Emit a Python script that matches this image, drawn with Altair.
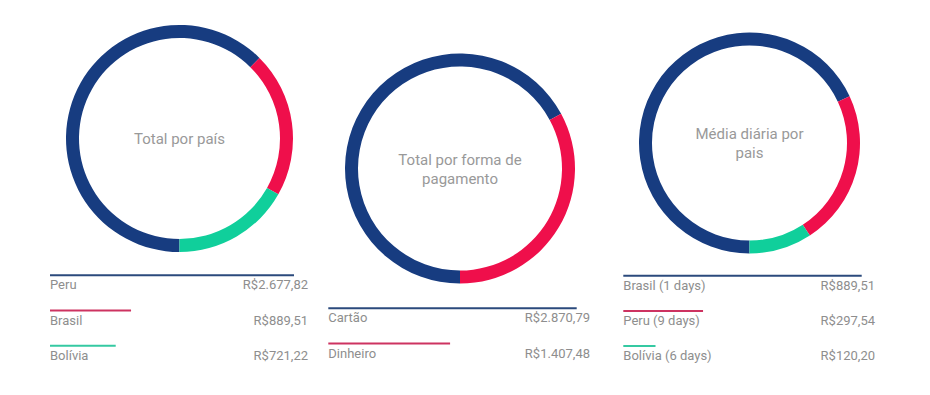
import math
import altair as alt
import pandas as pd

# ---- data ----
paises = ["Peru", "Brasil", "Bolívia"]
total_pais = [2677.82, 889.51, 721.22]

formas = ["Cartão", "Dinheiro"]
total_forma = [2870.79, 1407.48]

paises_media = ["Brasil (1 days)", "Peru (9 days)", "Bolívia (6 days)"]
media_diaria = [889.51, 297.54, 120.20]

titulos = ["Total por país", "Total por forma de\npagamento", "Média diária por\npais"]

ARC_COLORS = ["#173c80", "#ef0f4b", "#10cf9b"]
LINE_COLORS = ["#2b4a7c", "#cd3361", "#35c9a2"]
FONT = "Roboto"
TEXT_COLOR = "#8e8e8e"


def brl(v):
    s = f"{v:,.2f}"
    s = s.replace(",", "X").replace(".", ",").replace("X", ".")
    return "R$" + s


def panel(labels, values, title, width, cx, cy, r, lx0, lx1, vright, ly0):
    n = len(labels)
    df = pd.DataFrame({
        "label": labels,
        "value": values,
        "order": list(range(n)),
        "vtext": [brl(v) for v in values],
    })
    tdf = pd.DataFrame({"t": [title]})
    nlines = title.count("\n") + 1
    arc = alt.Chart(df).mark_arc(innerRadius=r - 13, outerRadius=r).encode(
        theta=alt.Theta("value:Q", stack=True,
                        scale=alt.Scale(range=[math.pi, 3 * math.pi])),
        order=alt.Order("order:Q"),
        color=alt.Color("label:N", scale=alt.Scale(domain=labels, range=ARC_COLORS[:n]),
                        legend=None),
        x=alt.value(cx),
        y=alt.value(cy),
    )
    center = alt.Chart(tdf).mark_text(
        lineBreak="\n", lineHeight=19, font=FONT, fontSize=15, color="#999999",
        align="center", baseline="middle", dy=-(nlines - 1) * 9,
    ).encode(text="t:N", x=alt.value(cx), y=alt.value(cy))

    yscale = alt.Scale(domain=[0, 2], range=[ly0, ly0 + 70.4], nice=False, zero=False)
    xscale = alt.Scale(domain=[0, max(values)], range=[lx0, lx1], nice=False, zero=True)
    rule = alt.Chart(df).mark_rule(strokeWidth=2).encode(
        x=alt.X("value:Q", scale=xscale, axis=None),
        x2=alt.datum(0),
        y=alt.Y("order:Q", scale=yscale, axis=None),
        stroke=alt.Stroke("label:N", scale=alt.Scale(domain=labels, range=LINE_COLORS[:n]),
                          legend=None),
    )
    lab = alt.Chart(df).mark_text(
        align="left", baseline="middle", dy=10, font=FONT, fontSize=13, color=TEXT_COLOR,
    ).encode(text="label:N", x=alt.value(lx0), y=alt.Y("order:Q", scale=yscale, axis=None))
    val = alt.Chart(df).mark_text(
        align="right", baseline="middle", dy=10, font=FONT, fontSize=13, color=TEXT_COLOR,
    ).encode(text="vtext:N", x=alt.value(vright), y=alt.Y("order:Q", scale=yscale, axis=None))

    return alt.layer(arc, center, rule, lab, val).properties(width=width, height=370)


p1 = panel(paises, total_pais, titulos[0], 300, 171.5, 130.5, 113.5, 42, 286, 300, 267.3)
p2 = panel(formas, total_forma, titulos[1], 282, 152, 160.5, 115, 20.3, 268.7, 282, 300.3)
p3 = panel(paises_media, media_diaria, titulos[2], 300, 159.5, 135, 110.5, 33.3, 271.7, 285, 267.7)

chart = alt.hconcat(p1, p2, p3, spacing=0).resolve_scale(
    color="independent", stroke="independent", theta="independent",
    x="independent", y="independent",
).properties(
    padding=0, background="white"
).configure_view(stroke=None)

chart.save("out.html", embed_options={"renderer": "svg", "actions": False})
